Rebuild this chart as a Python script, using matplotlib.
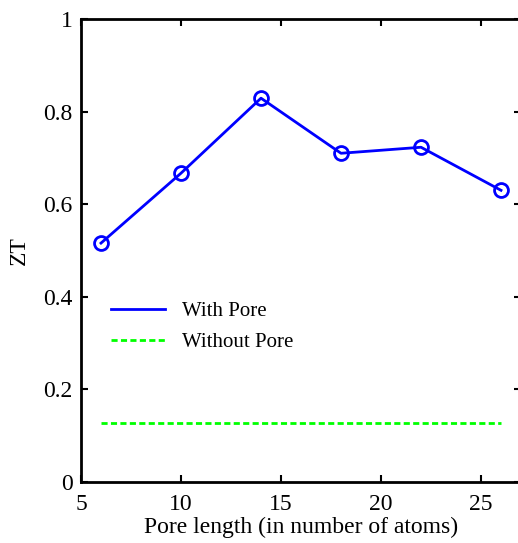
import matplotlib
matplotlib.use("Agg")
import matplotlib.pyplot as plt

# ZT versus pore length
pore_length = [6, 10, 14, 18, 22, 26]
zt_with_pore = [0.516, 0.667, 0.829, 0.710, 0.723, 0.630]
zt_without_pore = [0.127, 0.127]
x_without = [6, 26]

x_ticks = [5, 10, 15, 20, 25]
y_ticks = [0, 0.2, 0.4, 0.6, 0.8, 1]
y_tick_labels = ["0", "0.2", "0.4", "0.6", "0.8", "1"]

plt.rcParams["font.family"] = ["Liberation Serif", "DejaVu Serif"]
plt.rcParams["font.size"] = 17

fig = plt.figure(figsize=(5.18, 5.43), dpi=100)
ax = fig.add_axes([81 / 518, 61 / 543, 440 / 518, 463 / 543])

ax.plot(pore_length, zt_with_pore, color="#0000ff", lw=2, marker="o",
        markersize=10, markerfacecolor="none", markeredgewidth=2)
ax.plot([], [], color="#0000ff", lw=2, label="With Pore")
ax.plot(x_without, zt_without_pore, color="#00ff00", lw=2,
        linestyle=(0, (2.2, 1.2)), label="Without Pore")

ax.set_xlim(5, 27)
ax.set_ylim(0, 1)
ax.set_xticks(x_ticks)
ax.set_yticks(y_ticks)
ax.set_yticklabels(y_tick_labels)
ax.tick_params(direction="in", length=5, width=1.5, top=True, right=True,
               labelsize=17)
ax.tick_params(axis="x", pad=9)
ax.tick_params(axis="y", pad=6)
for s in ax.spines.values():
    s.set_linewidth(2)
# the right edge falls off the canvas; only its ticks reach in
ax.spines["right"].set_visible(False)

ax.set_xlabel("Pore length (in number of atoms)", fontsize=17, labelpad=1)
ax.set_ylabel("ZT", fontsize=17, labelpad=10)

ax.legend(loc="upper left", bbox_to_anchor=(0.025, 0.43), frameon=False,
          handlelength=2.6, handletextpad=0.8, labelspacing=0.55,
          fontsize=15)

fig.savefig("out.png", dpi=100)
